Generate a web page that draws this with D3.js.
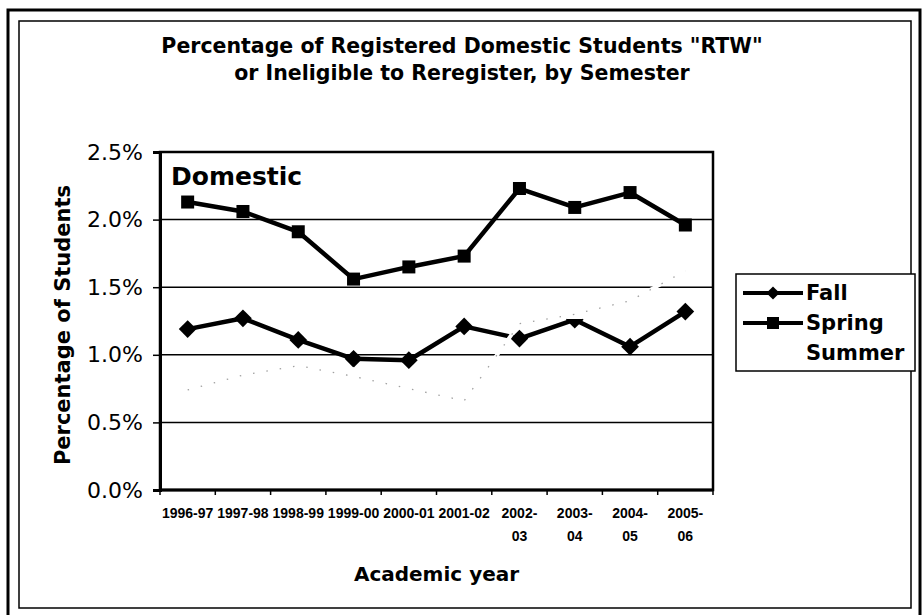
<!DOCTYPE html>
<html>
<head>
<meta charset="utf-8">
<script src="https://cdn.jsdelivr.net/npm/d3@7"></script>
<style>
  body { margin: 0; background: #fff; }
  svg { display: block; }
</style>
</head>
<body>
<div id="chart"></div>
<script>
// academic years, tick labels wrap like in the original sheet
const years = ["1996-97", "1997-98", "1998-99", "1999-00", "2000-01",
  "2001-02", "2002-03", "2003-04", "2004-05", "2005-06"];
const yearLabels = [["1996-97"], ["1997-98"], ["1998-99"], ["1999-00"], ["2000-01"],
  ["2001-02"], ["2002-", "03"], ["2003-", "04"], ["2004-", "05"], ["2005-", "06"]];

// percent of students (as fractions)
const fall = [0.0119, 0.0127, 0.0111, 0.0097, 0.0096, 0.0121, 0.0112, 0.0126, 0.0106, 0.0132];
const spring = [0.0213, 0.0206, 0.0191, 0.0156, 0.0165, 0.0173, 0.0223, 0.0209, 0.0220, 0.0196];
const summer = [0.0074, 0.0085, 0.0092, 0.0084, 0.0075, 0.0066, 0.0123, 0.0130, 0.0140, 0.0162];

const yTicks = [0, 0.005, 0.01, 0.015, 0.02, 0.025];
const seriesNames = ["Fall", "Spring", "Summer"];

class LineChart {
  constructor(_config) {
    this.config = {
      parentElement: "#chart",
      containerWidth: 924,
      containerHeight: 615,
      margin: { top: 152, right: 211, bottom: 125, left: 160 },
    };
    Object.assign(this.config, _config || {});
    this.initVis();
  }

  initVis() {
    let vis = this;
    vis.width = vis.config.containerWidth - vis.config.margin.left - vis.config.margin.right;
    vis.height = vis.config.containerHeight - vis.config.margin.top - vis.config.margin.bottom;

    vis.root = d3.select(vis.config.parentElement)
      .append("svg")
      .attr("width", vis.config.containerWidth)
      .attr("height", vis.config.containerHeight);

    // scanned page frame: thick outer border + thin inner one
    vis.root.append("rect")
      .attr("x", 8).attr("y", 10)
      .attr("width", 912).attr("height", 620)
      .attr("fill", "none").attr("stroke", "#000").attr("stroke-width", 3);
    vis.root.append("rect")
      .attr("x", 19).attr("y", 21)
      .attr("width", 892).attr("height", 587)
      .attr("fill", "none").attr("stroke", "#000").attr("stroke-width", 1.5);

    vis.svg = vis.root.append("g")
      .attr("transform", `translate(${vis.config.margin.left},${vis.config.margin.top})`);

    vis.x = d3.scaleBand().domain(years).range([0, vis.width]);
    vis.y = d3.scaleLinear().domain([0, 0.025]).range([vis.height, 0]);

    this.updateVis();
  }

  updateVis() {
    let vis = this;
    const cx = (i) => vis.x(years[i]) + vis.x.bandwidth() / 2;

    // title
    const title = vis.root.append("text")
      .attr("text-anchor", "middle")
      .style("font-family", "DejaVu Sans")
      .style("font-weight", "bold")
      .style("font-size", "20.5px");
    title.append("tspan").attr("x", 462).attr("y", 53)
      .text('Percentage of Registered Domestic Students "RTW"');
    title.append("tspan").attr("x", 462).attr("y", 80)
      .text("or Ineligible to Reregister, by Semester");

    // gridlines
    vis.svg.selectAll(".grid")
      .data(yTicks)
      .enter()
      .append("line")
      .attr("x1", 0).attr("x2", vis.width)
      .attr("y1", (d) => vis.y(d)).attr("y2", (d) => vis.y(d))
      .attr("stroke", "#000").attr("stroke-width", 1.5);

    // plot border
    vis.svg.append("rect")
      .attr("width", vis.width).attr("height", vis.height)
      .attr("fill", "none").attr("stroke", "#000").attr("stroke-width", 2.5);

    // y axis
    const yAxis = d3.axisLeft(vis.y)
      .tickValues(yTicks)
      .tickFormat(d3.format(".1%"))
      .tickSize(7)
      .tickPadding(10);
    const yg = vis.svg.append("g").call(yAxis);
    yg.select(".domain").attr("stroke-width", 3);
    yg.selectAll(".tick line").attr("stroke-width", 1.5);
    yg.selectAll("text")
      .style("font-family", "DejaVu Sans")
      .style("font-size", "22px")
      .attr("fill", "#000");

    // x axis: ticks on category boundaries
    vis.svg.append("line")
      .attr("x1", 0).attr("x2", vis.width)
      .attr("y1", vis.height).attr("y2", vis.height)
      .attr("stroke", "#000").attr("stroke-width", 3);
    vis.svg.selectAll(".xtick")
      .data(years.concat(["end"]))
      .enter()
      .append("line")
      .attr("x1", (d, i) => i < years.length ? vis.x(d) : vis.width)
      .attr("x2", (d, i) => i < years.length ? vis.x(d) : vis.width)
      .attr("y1", vis.height).attr("y2", vis.height + 5)
      .attr("stroke", "#000").attr("stroke-width", 1.5);

    const xl = vis.svg.selectAll(".xlabel")
      .data(yearLabels)
      .enter()
      .append("text")
      .attr("text-anchor", "middle")
      .style("font-family", "Liberation Sans")
      .style("font-weight", "bold")
      .style("font-size", "14px");
    xl.selectAll("tspan")
      .data((d, i) => d.map((t) => ({ t: t, i: i })))
      .enter()
      .append("tspan")
      .attr("x", (d) => cx(d.i))
      .attr("y", (d, j) => vis.height + 28 + j * 23)
      .text((d) => d.t);

    // axis titles
    vis.svg.append("text")
      .attr("x", vis.width / 2).attr("y", vis.height + 91)
      .attr("text-anchor", "middle")
      .style("font-family", "DejaVu Sans")
      .style("font-weight", "bold")
      .style("font-size", "20px")
      .text("Academic year");

    vis.root.append("text")
      .attr("transform", "translate(70,325) rotate(-90)")
      .attr("text-anchor", "middle")
      .style("font-family", "DejaVu Sans")
      .style("font-weight", "bold")
      .style("font-size", "21px")
      .text("Percentage of Students");

    vis.svg.append("text")
      .attr("x", 11).attr("y", 33)
      .style("font-family", "DejaVu Sans")
      .style("font-weight", "bold")
      .style("font-size", "25px")
      .text("Domestic");

    const line = (vals) => d3.line()
      .x((d, i) => cx(i))
      .y((d) => vis.y(d))(vals);

    // Fall
    vis.svg.append("path")
      .attr("d", line(fall))
      .attr("fill", "none").attr("stroke", "#000").attr("stroke-width", 4.5)
      .attr("stroke-linejoin", "round");
    vis.svg.selectAll(".fallpt")
      .data(fall)
      .enter()
      .append("path")
      .attr("d", d3.symbol(d3.symbolDiamond2, 200))
      .attr("transform", (d, i) => `translate(${cx(i)},${vis.y(d)})`)
      .attr("fill", "#000");

    // Spring
    vis.svg.append("path")
      .attr("d", line(spring))
      .attr("fill", "none").attr("stroke", "#000").attr("stroke-width", 4.5)
      .attr("stroke-linejoin", "round");
    vis.svg.selectAll(".springpt")
      .data(spring)
      .enter()
      .append("rect")
      .attr("x", (d, i) => cx(i) - 6.5)
      .attr("y", (d) => vis.y(d) - 6.5)
      .attr("width", 13).attr("height", 13)
      .attr("fill", "#000");

    // Summer: pale series the scan turned white, leaving only specks
    vis.svg.append("path")
      .attr("d", line(summer))
      .attr("fill", "none").attr("stroke", "#fff").attr("stroke-width", 4);
    vis.svg.selectAll(".summerpt")
      .data(summer)
      .enter()
      .append("path")
      .attr("d", d3.symbol(d3.symbolTriangle, 120))
      .attr("transform", (d, i) => `translate(${cx(i)},${vis.y(d)})`)
      .attr("fill", "#fff");
    vis.svg.append("path")
      .attr("d", line(summer))
      .attr("fill", "none").attr("stroke", "#a0a0a0").attr("stroke-width", 1.3)
      .attr("stroke-dasharray", "1.5,12");

    // legend
    const lg = vis.root.append("g").attr("transform", "translate(736,274)");
    lg.append("rect")
      .attr("width", 179).attr("height", 97)
      .attr("fill", "#fff").attr("stroke", "#000").attr("stroke-width", 1.5);
    const item = lg.selectAll(".item")
      .data(seriesNames)
      .enter()
      .append("g")
      .attr("transform", (d, i) => `translate(0,${19 + i * 30})`);
    item.filter((d) => d !== "Summer")
      .append("line")
      .attr("x1", 7).attr("x2", 67)
      .attr("stroke", "#000").attr("stroke-width", 4);
    item.filter((d) => d === "Fall")
      .append("path")
      .attr("d", d3.symbol(d3.symbolDiamond2, 110))
      .attr("transform", "translate(37,0)");
    item.filter((d) => d === "Spring")
      .append("rect")
      .attr("x", 31).attr("y", -6).attr("width", 12).attr("height", 12);
    item.append("text")
      .attr("x", 70).attr("y", 7)
      .style("font-family", "DejaVu Sans")
      .style("font-weight", "bold")
      .style("font-size", "21px")
      .text((d) => d);
  }
}

new LineChart();
</script>
</body>
</html>
